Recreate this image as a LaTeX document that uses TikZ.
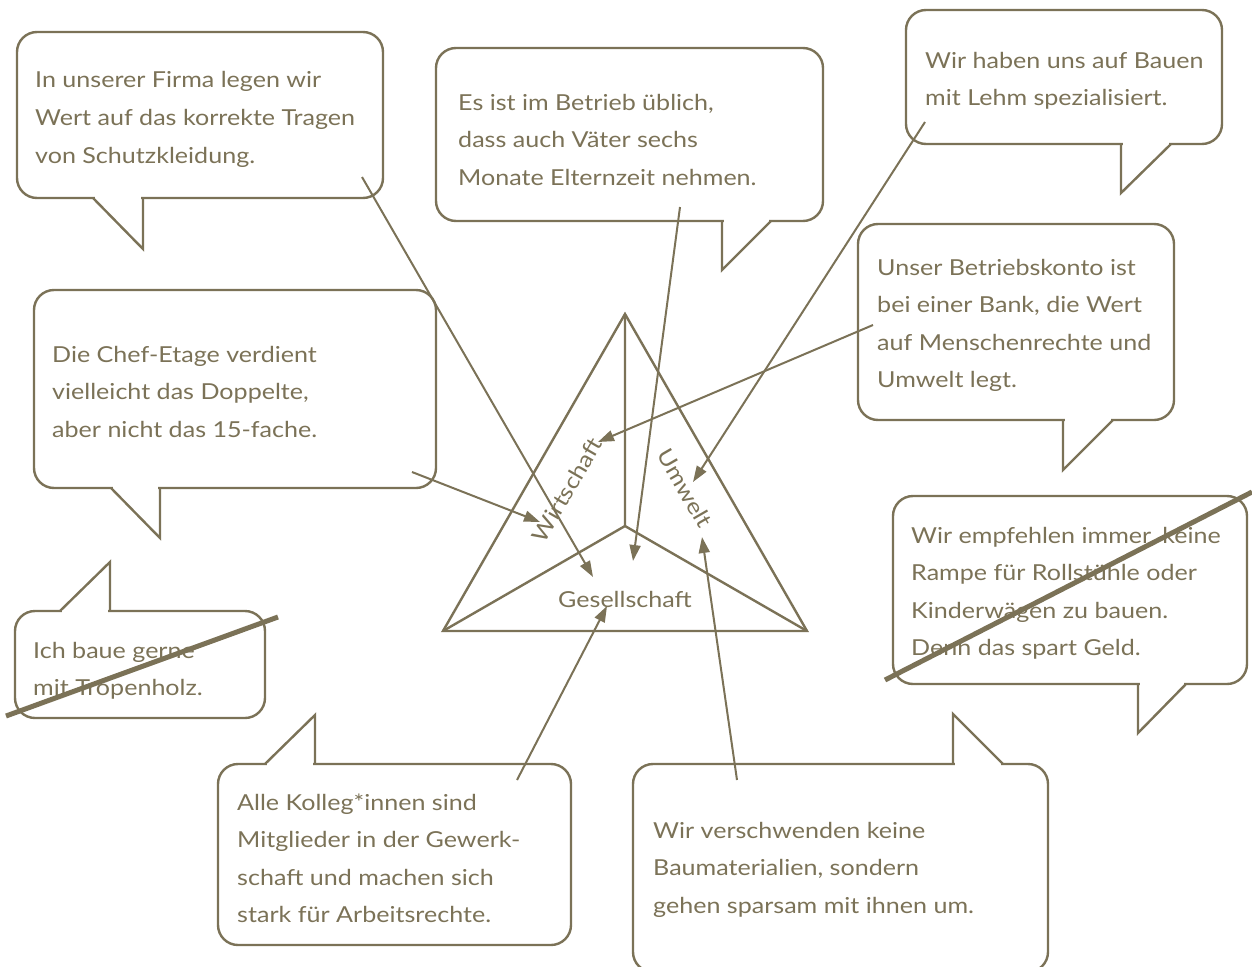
\documentclass[tikz,border=0pt]{standalone}
\usepackage{fontspec}
\setmainfont{Lato}[FakeStretch=1.14]
\usetikzlibrary{arrows.meta}
\definecolor{ink}{RGB}{123,114,87}
\newcommand\lns[1]{\begin{tabular}[t]{@{}l@{}}#1\end{tabular}}
\begin{document}
\begin{tikzpicture}[x=1pt,y=-1pt,
  every node/.style={text=ink, font=\fontsize{22}{37.5}\selectfont},
  txt/.style={anchor=base west, inner sep=0pt},
  bub/.style={draw=ink, line width=2.4pt, rounded corners=20pt},
  gap/.style={draw=white, line width=4pt},
  tail/.style={draw=ink, line width=2.4pt, line join=miter},
  conn/.style={draw=ink, line width=2pt, -{Triangle[length=16pt,width=11pt]}},
  tri/.style={draw=ink, line width=2.4pt, line join=miter},
  strike/.style={draw=ink, line width=5pt}]
\useasboundingbox (0,0) rectangle (1252,966);
% bubbles
\path[bub] (17,32) rectangle (383,198);
\path[gap] (95,198) -- (141,198);
\path[tail] (93,198) -- (143,249) -- (143,198);
\path[bub] (436,48) rectangle (823,221);
\path[gap] (724,221) -- (769,221);
\path[tail] (722,221) -- (722,270) -- (771,221);
\path[bub] (906,10) rectangle (1222,144);
\path[gap] (1123,144) -- (1169,144);
\path[tail] (1121,144) -- (1121,193) -- (1171,144);
\path[bub] (858,224) rectangle (1174,420);
\path[gap] (1065,420) -- (1111,420);
\path[tail] (1063,420) -- (1063,470) -- (1113,420);
\path[bub] (34,290) rectangle (436,488);
\path[gap] (113,488) -- (158,488);
\path[tail] (111,488) -- (160,538) -- (160,488);
\path[bub] (15,611) rectangle (265,718);
\path[gap] (62,611) -- (108,611);
\path[tail] (60,611) -- (110,562) -- (110,611);
\path[bub] (893,496) rectangle (1247,684);
\path[gap] (1140,684) -- (1184,684);
\path[tail] (1138,684) -- (1138,733) -- (1186,684);
\path[bub] (218,764) rectangle (571,945);
\path[gap] (267,764) -- (313,764);
\path[tail] (265,764) -- (315,715) -- (315,764);
\path[bub] (633,764) rectangle (1048,972);
\path[gap] (955,764) -- (1001,764);
\path[tail] (953,764) -- (953,714) -- (1003,764);
% texts
\node[txt] (t1) at (35,88) {\lns{In unserer Firma legen wir\\Wert auf das korrekte Tragen\\von Schutzkleidung.}};
\node[txt] (t2) at (458,110) {\lns{Es ist im Betrieb üblich,\\dass auch Väter sechs\\Monate Elternzeit nehmen.}};
\node[txt] (t3) at (925,68) {\lns{Wir haben uns auf Bauen\\mit Lehm spezialisiert.}};
\node[txt] (t4) at (877,275) {\lns{Unser Betriebskonto ist\\bei einer Bank, die Wert\\auf Menschenrechte und\\Umwelt legt.}};
\node[txt] (t5) at (52,362) {\lns{Die Chef-Etage verdient\\vielleicht das Doppelte,\\aber nicht das 15-fache.}};
\node[txt] (t6) at (33,658) {\lns{Ich baue gerne\\mit Tropenholz.}};
\node[txt] (t7) at (911,543) {\lns{Wir empfehlen immer, keine\\Rampe für Rollstühle oder\\Kinderwägen zu bauen.\\Denn das spart Geld.}};
\node[txt] (t8) at (237,810) {\lns{Alle Kolleg*innen sind\\Mitglieder in der Gewerk-\\schaft und machen sich\\stark für Arbeitsrechte.}};
\node[txt] (t9) at (653,838) {\lns{Wir verschwenden keine\\Baumaterialien, sondern\\gehen sparsam mit ihnen um.}};
% triangle
\coordinate (apex) at (625,314);
\coordinate (bl) at (443,631);
\coordinate (br) at (807,631);
\coordinate (ctr) at (625,526);
\path[tri] (apex) -- (bl) -- (br) -- cycle;
\path[tri] (apex) -- (ctr) (bl) -- (ctr) -- (br);
\node[anchor=base, inner sep=0pt] (ges) at (625,607) {Gesellschaft};
\node[rotate=60, inner sep=0pt] (wir) at (567,490) {Wirtschaft};
\node[rotate=-60, inner sep=0pt] (umw) at (685,488) {Umwelt};
% connectors
\coordinate (s1) at (362,177); \coordinate (e1) at (593,577);
\coordinate (s2) at (680,207); \coordinate (e2) at (633,561);
\coordinate (s3) at (925,122); \coordinate (e3) at (693,482);
\coordinate (s4) at (873,325); \coordinate (e4) at (598,442);
\coordinate (s5) at (412,472); \coordinate (e5) at (540,522);
\coordinate (s8) at (517,780); \coordinate (e8) at (607,606);
\coordinate (s9) at (737,780); \coordinate (e9) at (702,537);
\path[conn] (s1) -- (e1);
\path[conn] (s2) -- (e2);
\path[conn] (s3) -- (e3);
\path[conn] (s4) -- (e4);
\path[conn] (s5) -- (e5);
\path[conn] (s8) -- (e8);
\path[conn] (s9) -- (e9);
% strikes
\coordinate (x6a) at (6,716); \coordinate (x6b) at (278,617);
\coordinate (x7a) at (885,680); \coordinate (x7b) at (1252,492);
\path[strike] (x6a) -- (x6b);
\path[strike] (x7a) -- (x7b);
\end{tikzpicture}
\end{document}
